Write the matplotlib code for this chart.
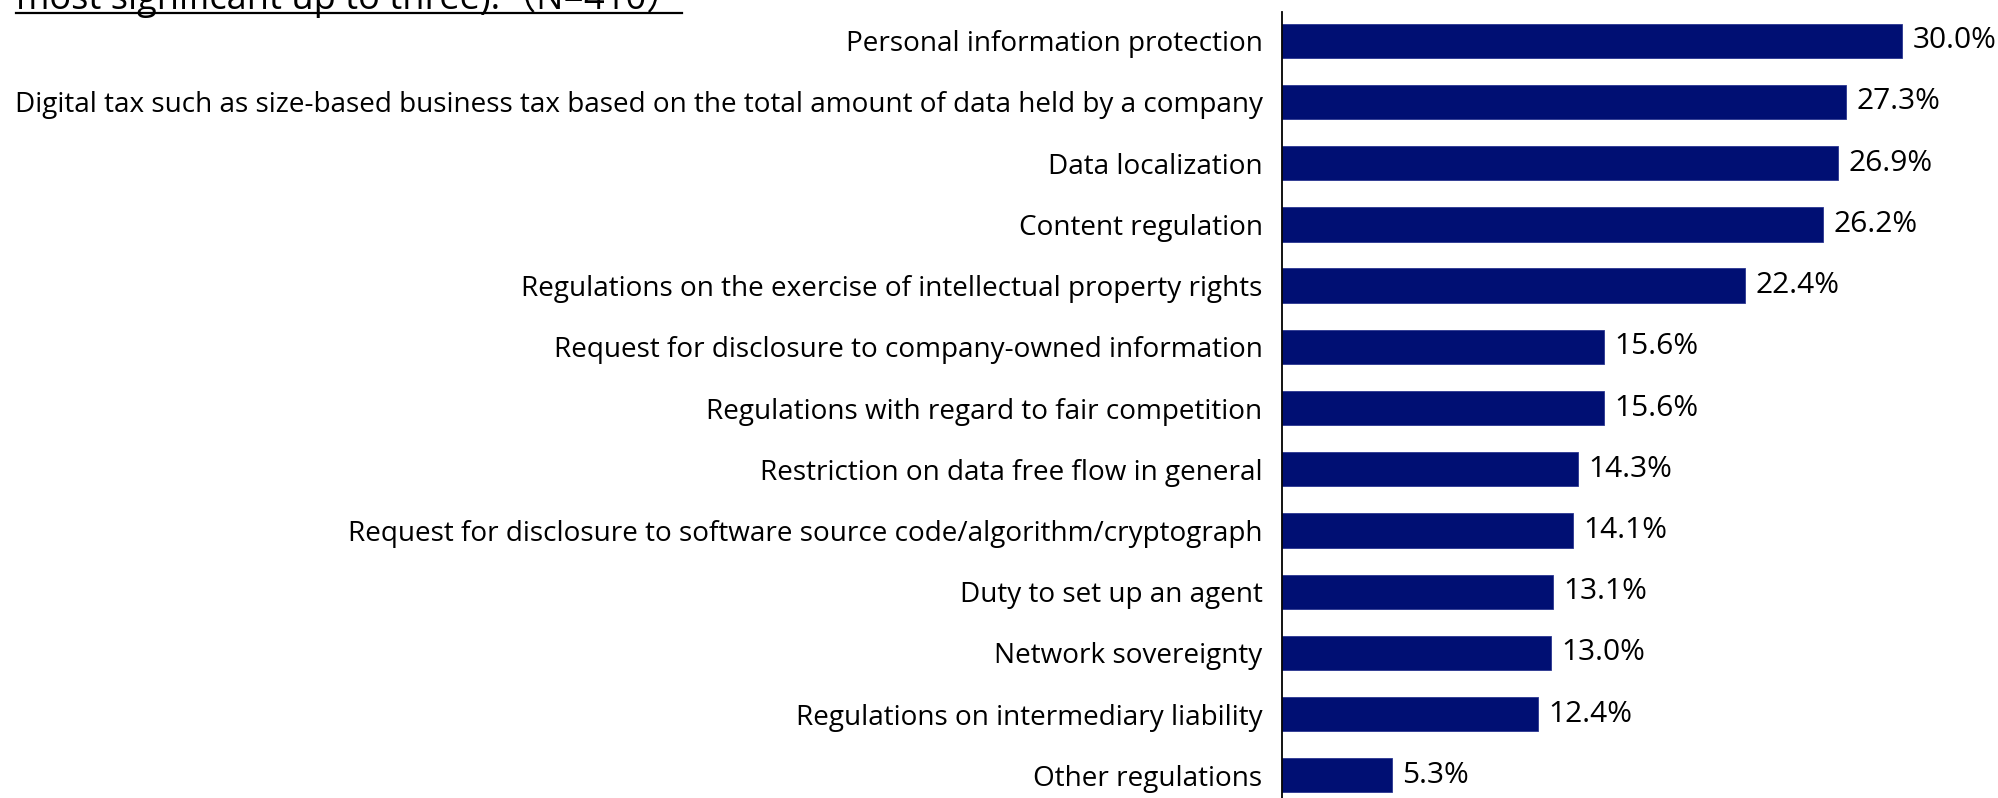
import matplotlib
matplotlib.use('Agg')
import matplotlib.pyplot as plt
from matplotlib.lines import Line2D

plt.rcParams['font.family'] = ['Open Sans', 'Noto Sans CJK JP', 'DejaVu Sans']

categories = [
    'Personal information protection',
    'Digital tax such as size-based business tax based on the total amount of data held by a company',
    'Data localization',
    'Content regulation',
    'Regulations on the exercise of intellectual property rights',
    'Request for disclosure to company-owned information',
    'Regulations with regard to fair competition',
    'Restriction on data free flow in general',
    'Request for disclosure to software source code/algorithm/cryptograph',
    'Duty to set up an agent',
    'Network sovereignty',
    'Regulations on intermediary liability',
    'Other regulations',
]
values = [30.0, 27.3, 26.9, 26.2, 22.4, 15.6, 15.6, 14.3, 14.1, 13.1, 13.0, 12.4, 5.3]
title = 'most significant up to three).\uff08N=410\uff09'

W, H = 1999, 798
fig = plt.figure(figsize=(W / 100, H / 100), dpi=100)
ax = fig.add_axes([1282 / W, 0, 1 - 1282 / W, 1 - 12 / H])

pos = list(range(len(categories)))
ax.barh(pos, values, height=0.56, color='#000F73', edgecolor='#2a3590', linewidth=0.6)
for p, v in zip(pos, values):
    ax.text(v + 0.5, p, f'{v:.1f}%', va='center', ha='left', fontsize=21.5)

# 30% bar spans 1282 -> 1902 px
ax.set_xlim(0, (W - 1282) * 30 / 620)
ax.set_ylim(len(categories) - 1 + 0.37, -0.47)
ax.set_yticks(pos)
ax.set_yticklabels(categories, fontsize=20.1)
ax.tick_params(axis='y', length=0, pad=14)
ax.set_xticks([])
for s in ['top', 'right', 'bottom']:
    ax.spines[s].set_visible(False)
ax.spines['left'].set_linewidth(1.3)

# title is cut off at the top of the picture
t = fig.text(16 / W, 1 - 9 / H, title, fontsize=26, ha='left', va='baseline')
fig.canvas.draw()
bb = t.get_window_extent()
uy = 1 - 12.5 / H
fig.add_artist(Line2D([bb.x0 / W, bb.x1 / W], [uy, uy], color='black', lw=1.6))

fig.savefig('out.png', dpi=100)
